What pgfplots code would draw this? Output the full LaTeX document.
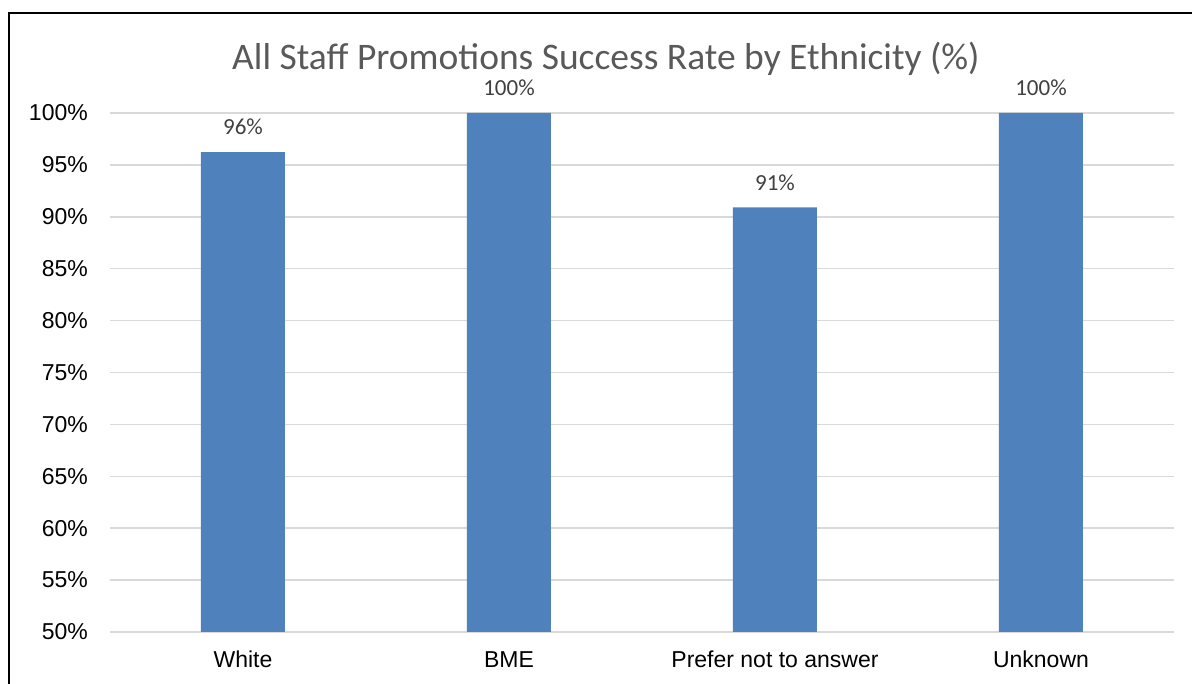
\documentclass[border=0pt]{standalone}
\usepackage{pgfplots}
\pgfplotsset{compat=1.18}
\usepackage{fontspec}
\setmainfont{Liberation Sans}
\newfontfamily\carlito{Carlito}
\definecolor{barblue}{HTML}{4F81BD}
\definecolor{gridgray}{HTML}{D9D9D9}
\definecolor{titlegray}{HTML}{595959}
\definecolor{labelgray}{HTML}{404040}
\begin{document}
\begin{tikzpicture}[x=1pt,y=1pt]
\useasboundingbox (0,0) rectangle (1192,684);
\draw[black, line width=1.5pt] (9,0) -- (9,671) -- (1192,671);
\begin{axis}[
  at={(110pt,52pt)}, anchor=south west,
  scale only axis, width=1064pt, height=519pt,
  xmin=-0.5, xmax=3.5, ymin=50, ymax=100,
  xtick={0,1,2,3},
  xticklabels={White, BME, Prefer not to answer, Unknown},
  ytick={50,55,60,65,70,75,80,85,90,95,100},
  yticklabel={\pgfmathprintnumber{\tick}\%},
  /pgf/number format/assume math mode=true,
  ymajorgrids,
  major grid style={draw=gridgray, line width=1.5pt},
  axis line style={draw=none},
  major tick length=0pt,
  tick label style={font=\fontsize{23}{26}\selectfont, text=black},
  yticklabel style={anchor=east, inner sep=0pt, xshift=-22pt},
  xticklabel style={anchor=base, inner sep=0pt, yshift=-36pt},
  clip mode=individual,
  ybar, bar width=84pt, bar shift=0pt,
  nodes near coords={\pgfmathprintnumber[fixed,precision=0]{\pgfplotspointmeta}\%},
  every node near coord/.append style={anchor=center, yshift=25pt, font=\carlito\fontsize{23}{26}\selectfont, text=labelgray},
]
\addplot[fill=barblue, draw=none] coordinates {(0,96.24) (1,100) (2,90.9) (3,100)};
\end{axis}
\node[anchor=base, font=\carlito\fontsize{37.5}{42}\selectfont, text=titlegray, inner sep=0pt] at (606,614) {All Staff Promotions Success Rate by Ethnicity (\%)};
\end{tikzpicture}
\end{document}
